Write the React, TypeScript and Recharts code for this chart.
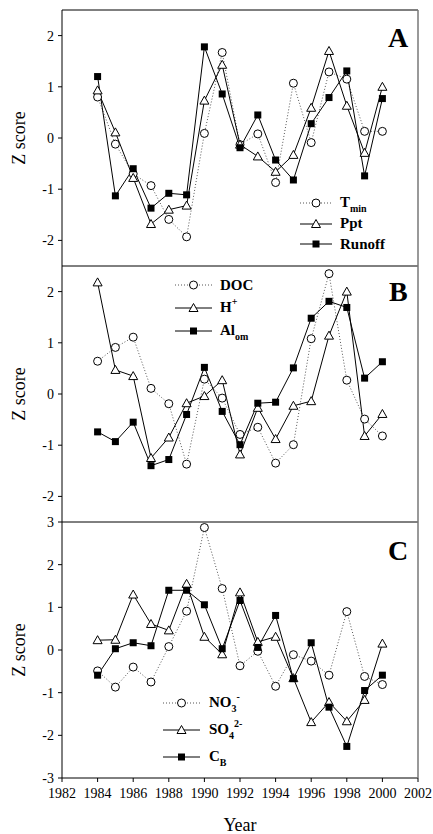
import React from 'react';
import { LineChart, Line, XAxis, YAxis, Legend } from 'recharts';

const years = [1984, 1985, 1986, 1987, 1988, 1989, 1990, 1991, 1992, 1993, 1994, 1995, 1996, 1997, 1998, 1999, 2000];

// Panel A
const tmin = [0.8, -0.12, -0.7, -0.93, -1.59, -1.93, 0.09, 1.67, -0.13, 0.08, -0.87, 1.07, -0.09, 1.29, 1.15, 0.13, 0.13];
const ppt = [0.93, 0.11, -0.78, -1.68, -1.4, -1.32, 0.73, 1.43, -0.13, -0.36, -0.66, -0.33, 0.59, 1.7, 0.63, -0.29, 1.0];
const runoff = [1.2, -1.13, -0.6, -1.37, -1.08, -1.11, 1.78, 0.86, -0.19, 0.45, -0.43, -0.82, 0.28, 0.79, 1.31, -0.74, 0.77];

// Panel B
const doc = [0.64, 0.91, 1.11, 0.11, -0.19, -1.37, 0.29, -0.08, -0.79, -0.65, -1.35, -0.99, 1.08, 2.35, 0.27, -0.49, -0.82];
const hPlus = [2.18, 0.47, 0.35, -1.25, -0.85, -0.18, -0.04, 0.27, -1.18, -0.27, -0.88, -0.23, -0.14, 1.14, 2.0, -0.82, -0.39];
const alOm = [-0.74, -0.93, -0.55, -1.4, -1.28, -0.4, 0.52, -0.34, -0.99, -0.18, -0.16, 0.51, 1.48, 1.81, 1.69, 0.31, 0.63];

// Panel C
const no3 = [-0.49, -0.87, -0.4, -0.75, 0.08, 0.91, 2.87, 1.44, -0.37, -0.03, -0.85, -0.11, -0.26, -0.59, 0.9, -0.62, -0.81];
const so4 = [0.23, 0.24, 1.3, 0.61, 0.46, 1.55, 0.31, -0.1, 1.35, 0.19, 0.31, -0.66, -1.69, -1.22, -1.67, -1.17, 0.15];
const cb = [-0.59, 0.03, 0.17, 0.1, 1.4, 1.4, 1.06, 0.03, 1.16, 0.06, 0.81, -0.67, 0.17, -1.34, -2.26, -0.95, -0.59];

const xTicks = [1982, 1984, 1986, 1988, 1990, 1992, 1994, 1996, 1998, 2000, 2002];
const abTicks = [-2, -1, 0, 1, 2];
const cTicks = [-3, -2, -1, 0, 1, 2, 3];

const dataA = years.map((year, i) => ({ year, tmin: tmin[i], ppt: ppt[i], runoff: runoff[i] }));
const dataB = years.map((year, i) => ({ year, doc: doc[i], hPlus: hPlus[i], alOm: alOm[i] }));
const dataC = years.map((year, i) => ({ year, no3: no3[i], so4: so4[i], cb: cb[i] }));

const FONT = '"Liberation Serif", "Times New Roman", serif';

const Circle = ({ cx, cy }: any) => <circle cx={cx} cy={cy} r={4} fill="#fff" stroke="#000" strokeWidth={1} />;
const Tri = ({ cx, cy }: any) => (
  <path d={`M${cx},${cy - 4.5}L${cx + 4.5},${cy + 3.5}L${cx - 4.5},${cy + 3.5}Z`} fill="#fff" stroke="#000" strokeWidth={1} />
);
const Sq = ({ cx, cy }: any) => <rect x={cx - 3.5} y={cy - 3.5} width={7} height={7} fill="#000" />;

const markers: any = { circle: Circle, tri: Tri, sq: Sq };

const dotFor = (kind: string) => (p: any) => {
  const M = markers[kind];
  return <M key={p.index} cx={p.cx} cy={p.cy} />;
};

// tick text drawn with explicit serif font
const XTick = ({ x, y, payload }: any) => (
  <text x={x} y={y + 12} textAnchor="middle" fontSize={14} fill="#000" fontFamily={FONT}>
    {payload.value}
  </text>
);
const YTick = ({ x, y, payload }: any) => (
  <text x={x} y={y} dy={5} textAnchor="end" fontSize={14} fill="#000" fontFamily={FONT}>
    {payload.value}
  </text>
);

type Item = { key: string; kind: string; dotted: boolean; main: string; sub?: string; sup?: string };

const seriesA: Item[] = [
  { key: 'tmin', kind: 'circle', dotted: true, main: 'T', sub: 'min' },
  { key: 'ppt', kind: 'tri', dotted: false, main: 'Ppt' },
  { key: 'runoff', kind: 'sq', dotted: false, main: 'Runoff' },
];
const seriesB: Item[] = [
  { key: 'doc', kind: 'circle', dotted: true, main: 'DOC' },
  { key: 'hPlus', kind: 'tri', dotted: false, main: 'H', sup: '+' },
  { key: 'alOm', kind: 'sq', dotted: false, main: 'Al', sub: 'om' },
];
const seriesC: Item[] = [
  { key: 'no3', kind: 'circle', dotted: true, main: 'NO', sub: '3', sup: '-' },
  { key: 'so4', kind: 'tri', dotted: false, main: 'SO', sub: '4', sup: '2-' },
  { key: 'cb', kind: 'sq', dotted: false, main: 'C', sub: 'B' },
];

const PanelLegend = ({ items, sampleW, rowH, gap }: any) => (
  <div style={{ fontFamily: FONT }}>
    {items.map((it: Item) => {
      const M = markers[it.kind];
      return (
        <div key={it.key} style={{ display: 'flex', alignItems: 'center', height: rowH }}>
          <svg width={sampleW} height={12} style={{ overflow: 'visible' }}>
            <line x1={0} x2={sampleW} y1={6} y2={6} stroke={it.dotted ? '#555' : '#000'} strokeDasharray={it.dotted ? '1 2' : undefined} />
            <M cx={sampleW / 2} cy={6} />
          </svg>
          <span style={{ marginLeft: gap, fontWeight: 'bold', fontSize: 15, lineHeight: '15px', whiteSpace: 'nowrap' }}>
            {it.main}
            {it.sub && <span style={{ fontSize: 10, position: 'relative', top: 5 }}>{it.sub}</span>}
            {it.sup && <span style={{ fontSize: 10, position: 'relative', top: -7 }}>{it.sup}</span>}
          </span>
        </div>
      );
    })}
  </div>
);

const ZLabel = (props: any) => {
  const vb = props.viewBox || {};
  const cy = vb.y + vb.height / 2;
  return (
    <text x={19} y={cy} transform={`rotate(-90, 19, ${cy})`} textAnchor="middle" dominantBaseline="central" fontSize={18} fill="#000" fontFamily={FONT}>
      Z score
    </text>
  );
};

const Panel = ({ data, series, top, height, xHeight, domain, yTicks, showX, legend }: any) => (
  <div style={{ position: 'absolute', left: 0, top }}>
    <LineChart width={433} height={height} data={data} margin={{ top: 10, right: 15, bottom: 0, left: 0 }} style={{ fontFamily: FONT }}>
      <XAxis
        dataKey="year"
        type="number"
        domain={[1982, 2002]}
        ticks={xTicks}
        interval={0}
        height={xHeight}
        tickSize={4}
        tickMargin={4}
        tick={showX ? <XTick /> : false}
        axisLine={{ stroke: '#000' }}
        tickLine={{ stroke: '#000' }}
        label={showX ? { value: 'Year', position: 'insideBottom', offset: 3, fontSize: 18, fill: '#000', fontFamily: FONT } : undefined}
      />
      <YAxis
        type="number"
        domain={domain}
        ticks={yTicks}
        interval={0}
        width={62}
        tickSize={4}
        tickMargin={4}
        tick={<YTick />}
        axisLine={{ stroke: '#000' }}
        tickLine={{ stroke: '#000' }}
        label={<ZLabel />}
      />
      {series.map((s: Item) => (
        <Line
          key={s.key}
          type="linear"
          dataKey={s.key}
          stroke={s.dotted ? '#555' : '#000'}
          strokeDasharray={s.dotted ? '1 2' : undefined}
          strokeWidth={1}
          dot={dotFor(s.kind)}
          activeDot={false}
          isAnimationActive={false}
        />
      ))}
      <Legend
        layout="vertical"
        verticalAlign="middle"
        align="center"
        wrapperStyle={{ left: legend.left, top: legend.top, width: 'auto', height: 'auto' }}
        content={() => <PanelLegend items={series} sampleW={legend.sampleW} rowH={legend.rowH} gap={legend.gap} />}
      />
    </LineChart>
  </div>
);

export default function App() {
  return (
    <div style={{ position: 'absolute', left: 0, top: 0, width: 433, height: 834, background: '#fff', fontFamily: FONT, overflow: 'hidden' }}>
      <Panel
        data={dataA}
        series={seriesA}
        top={0}
        height={274}
        xHeight={8}
        domain={[-2.5, 2.5]}
        yTicks={abTicks}
        showX={false}
        legend={{ left: 300, top: 193, sampleW: 32, rowH: 20.5, gap: 8 }}
      />
      <Panel
        data={dataB}
        series={seriesB}
        top={256}
        height={274}
        xHeight={8}
        domain={[-2.5, 2.5]}
        yTicks={abTicks}
        showX={false}
        legend={{ left: 175, top: 17.5, sampleW: 37, rowH: 23, gap: 8 }}
      />
      <Panel
        data={dataC}
        series={seriesC}
        top={512}
        height={322}
        xHeight={56}
        domain={[-3, 3]}
        yTicks={cTicks}
        showX={true}
        legend={{ left: 163, top: 177.5, sampleW: 37, rowH: 27, gap: 9 }}
      />
      <svg width={433} height={834} style={{ position: 'absolute', left: 0, top: 0, pointerEvents: 'none' }}>
        <line x1={62} x2={418} y1={10} y2={10} stroke="#000" />
        <line x1={418} x2={418} y1={10} y2={778} stroke="#777" strokeWidth={1.5} />
        <text x={388} y={47} fontSize={28} fontWeight="bold" fontFamily={FONT}>A</text>
        <text x={389} y={301} fontSize={28} fontWeight="bold" fontFamily={FONT}>B</text>
        <text x={388} y={560} fontSize={28} fontWeight="bold" fontFamily={FONT}>C</text>
      </svg>
    </div>
  );
}
